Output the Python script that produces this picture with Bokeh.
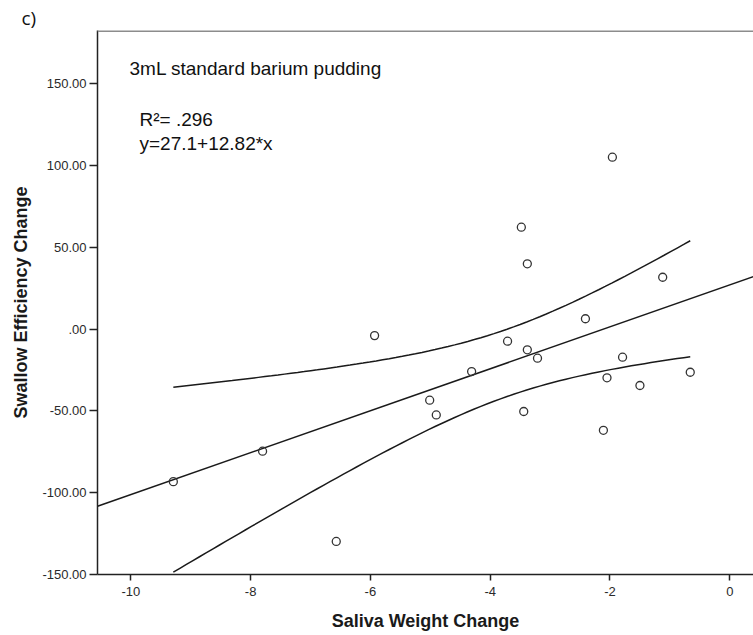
import numpy as np
from bokeh.plotting import figure
from bokeh.models import Range1d, FixedTicker, Label, Span
from bokeh.embed import file_html
from bokeh.resources import INLINE

# ---- data ----
saliva_change = [-3.38, -1.12, -2.41, -5.93, -3.71, -3.38, -3.21, -1.79, -0.66, -4.31, -2.05,
                 -1.50, -5.01, -4.90, -3.44, -2.11, -1.96, -3.48, -9.29, -7.80, -6.57]
swallow_change = [40.0, 31.8, 6.4, -3.9, -7.3, -12.6, -17.7, -17.1, -26.3, -25.9, -29.7,
                  -34.4, -43.4, -52.4, -50.3, -61.8, 105.2, 62.4, -93.2, -74.6, -129.8]
fit_intercept = 27.1
fit_slope = 12.82
x_ticks = [-10, -8, -6, -4, -2, 0]
x_tick_labels = ["-10", "-8", "-6", "-4", "-2", "0"]
y_ticks = [-150, -100, -50, 0, 50, 100, 150]
y_tick_labels = ["-150.00", "-100.00", "-50.00", ".00", "50.00", "100.00", "150.00"]
panel_tag = "c)"
subtitle = "3mL standard barium pudding"
r2_text = "R\u00b2= .296"
eq_text = "y=27.1+12.82*x"
x_title = "Saliva Weight Change"
y_title = "Swallow Efficiency Change"

FONT = "Liberation Sans"

x_lo, x_hi = -10.556, 0.396
y_lo, y_hi = -150, 182.7
p = figure(width=753, height=635, output_backend="svg", toolbar_location=None,
           x_range=Range1d(x_lo, x_hi), y_range=Range1d(y_lo, y_hi),
           min_border_left=97, min_border_right=0, min_border_top=30, min_border_bottom=61,
           background_fill_color="white", border_fill_color="white")
p.outline_line_color = None
p.xgrid.visible = False
p.ygrid.visible = False

# panel tag as title
p.title.text = panel_tag
p.title.text_font = "Open Sans"
p.title.text_font_size = "19px"
p.title.text_font_style = "normal"
p.title.text_color = "#111111"
p.title.align = "left"
p.title.offset = -76
p.title.standoff = 0

# top border of the plot box
p.add_layout(Span(location=y_hi, dimension="width", line_color="#8c8c8c", line_width=3))

# fit line across the whole range
xf = np.array([x_lo, x_hi])
p.line(xf, fit_intercept + fit_slope * xf, line_color="#1a1a1a", line_width=1.5)

# 95% confidence band of the mean, from the data
xa = np.array(saliva_change)
ya = np.array(swallow_change)
n = len(xa)
resid = ya - (fit_intercept + fit_slope * xa)
s = np.sqrt(np.sum(resid ** 2) / (n - 2))
sxx = np.sum((xa - xa.mean()) ** 2)
t95 = 2.093
xg = np.linspace(xa.min(), xa.max(), 80)
yg = fit_intercept + fit_slope * xg
hw = t95 * s * np.sqrt(1.0 / n + (xg - xa.mean()) ** 2 / sxx)
p.line(xg, yg + hw, line_color="#1a1a1a", line_width=1.5)
p.line(xg, yg - hw, line_color="#1a1a1a", line_width=1.5)

p.scatter(saliva_change, swallow_change, size=8, marker="circle",
          fill_color=None, line_color="#333333", line_width=1.3)

# axes
for ax in (p.xaxis[0], p.yaxis[0]):
    ax.axis_line_color = "#222222"
    ax.axis_line_width = 1.5
    ax.major_tick_line_color = "#222222"
    ax.major_tick_line_width = 1.5
    ax.minor_tick_line_color = None
    ax.major_tick_in = 0
    ax.major_label_text_font = FONT
    ax.major_label_text_font_size = "13px"
    ax.major_label_text_color = "#2a2a2a"
    ax.axis_label_text_font = FONT
    ax.axis_label_text_font_size = "18px"
    ax.axis_label_text_font_style = "bold"
    ax.axis_label_text_color = "#1a1a1a"

p.xaxis.ticker = FixedTicker(ticks=x_ticks)
p.xaxis.major_label_overrides = {t: l for t, l in zip(x_ticks, x_tick_labels)}
p.xaxis.major_tick_out = 6
p.xaxis.major_label_standoff = 6
p.xaxis.axis_label = x_title
p.xaxis.axis_label_standoff = 12

p.yaxis.ticker = FixedTicker(ticks=y_ticks)
p.yaxis.major_label_overrides = {t: l for t, l in zip(y_ticks, y_tick_labels)}
p.yaxis.major_tick_out = 8
p.yaxis.major_label_standoff = 3
p.yaxis.axis_label = y_title
p.yaxis.axis_label_standoff = 8

# texts
p.add_layout(Label(x=-10.022, y=159.3, text=subtitle, text_font=FONT,
                   text_font_size="19px", text_color="#111111", text_baseline="alphabetic"))
p.add_layout(Label(x=-9.855, y=128.1, text=r2_text, text_font=FONT,
                   text_font_size="19px", text_color="#111111", text_baseline="alphabetic"))
p.add_layout(Label(x=-9.855, y=113.8, text=eq_text, text_font=FONT,
                   text_font_size="19px", text_color="#111111", text_baseline="alphabetic"))

open("out.html", "w").write(file_html(p, INLINE))
